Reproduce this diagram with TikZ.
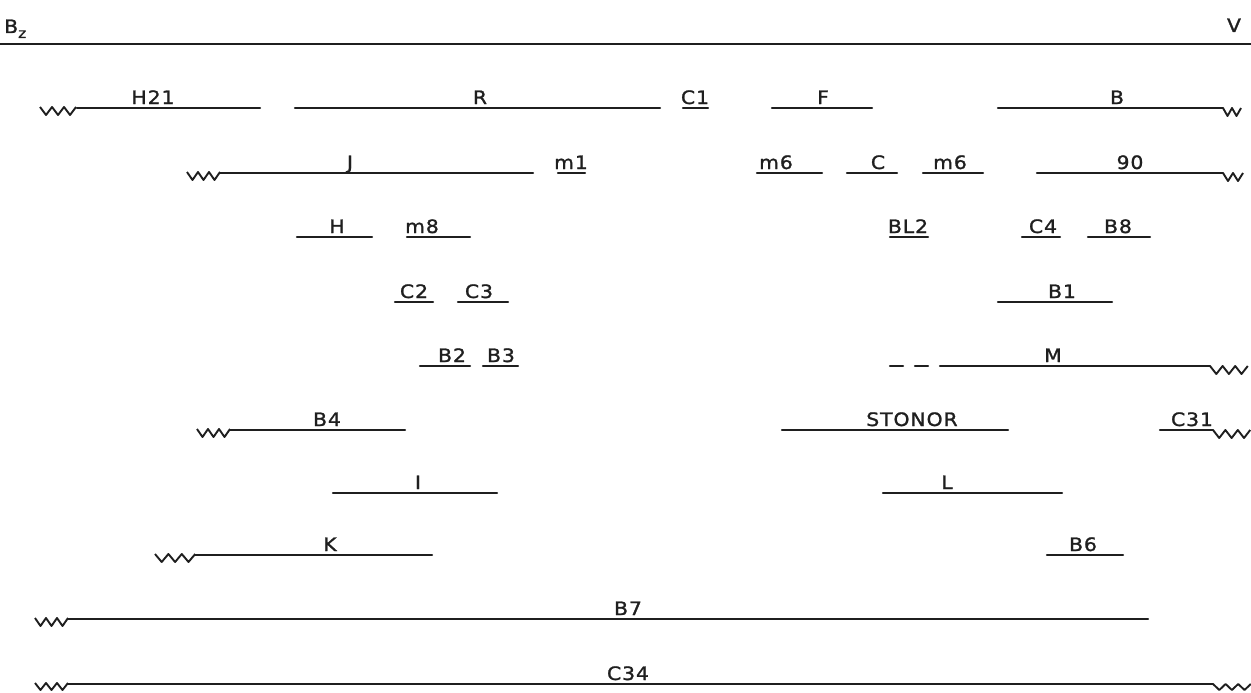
\documentclass[tikz,border=0pt]{standalone}
\usepackage{fontspec}
\setmainfont{DejaVu Sans}[FakeStretch=1.1,LetterSpace=5,FakeBold=1.3]
\newcommand\segm[6]{% name, x1, x2, y, label, label x
  \coordinate (#1a) at (#2,#4);
  \coordinate (#1b) at (#3,#4);
  \draw[seg] (#1a) -- (#1b);
  \node[lab] (#1) at (#6,#4) {#5};}
\begin{document}
\begin{tikzpicture}[x=1pt,y=-1pt,
  seg/.style={line width=2.3pt,line cap=round,line join=round,black!88},
  wav/.style={line width=1.9pt,line join=round,black!88},
  lab/.style={anchor=base,yshift=4pt,inner sep=0pt,font=\fontsize{18.5}{21}\selectfont,text=black!88}]
\useasboundingbox (0,0) rectangle (1251,693);
% top axis
\coordinate (axL) at (0,44);
\coordinate (axR) at (1251,44);
\draw[seg,line cap=butt] (axL) -- (axR);
\node[lab,anchor=base west,yshift=7pt] (Bz) at (4,44) {B\raisebox{-5pt}{\fontsize{14}{14}\selectfont z}};
\node[lab,yshift=8pt] (V) at (1234,44) {V};
% row 1
\segm{H21}{77}{260}{108}{H21}{153}
\draw[wav] (40,107) \foreach \i in {1,2,3}{ -- ++(6,8) -- ++(6,-8)};
\segm{R}{295}{660}{108}{R}{480}
\segm{C1}{683}{708}{108}{C1}{695}
\segm{F}{772}{872}{108}{F}{823}
\segm{B}{998}{1223}{108}{B}{1117}
\draw[wav] (1223,108) \foreach \i in {1,2}{ -- ++(4.5,8) -- ++(4.5,-8)};
% row 2
\segm{J}{220}{533}{173}{J}{350}
\draw[wav] (187,172) \foreach \i in {1,2,3}{ -- ++(5.5,8) -- ++(5.5,-8)};
\segm{m1}{558}{585}{173}{m1}{571}
\segm{m6a}{757}{822}{173}{m6}{776}
\segm{C}{847}{897}{173}{C}{878}
\segm{m6b}{923}{983}{173}{m6}{950}
\segm{N90}{1037}{1223}{173}{90}{1130}
\draw[wav] (1223,173) \foreach \i in {1,2}{ -- ++(5,8) -- ++(5,-8)};
% row 3
\segm{H}{297}{372}{237}{H}{337}
\segm{m8}{407}{470}{237}{m8}{422}
\segm{BL2}{890}{928}{237}{BL2}{908}
\segm{C4}{1022}{1060}{237}{C4}{1043}
\segm{B8}{1088}{1150}{237}{B8}{1118}
% row 4
\segm{C2}{395}{433}{302}{C2}{414}
\segm{C3}{458}{508}{302}{C3}{479}
\segm{B1}{998}{1112}{302}{B1}{1062}
% row 5
\segm{B2}{420}{470}{366}{B2}{452}
\segm{B3}{483}{518}{366}{B3}{501}
\coordinate (Md1a) at (890,366); \coordinate (Md1b) at (903,366);
\coordinate (Md2a) at (915,366); \coordinate (Md2b) at (928,366);
\draw[seg] (Md1a) -- (Md1b);
\draw[seg] (Md2a) -- (Md2b);
\segm{M}{940}{1210}{366}{M}{1053}
\draw[wav] (1210,366) \foreach \i in {1,2,3}{ -- ++(6.3,8) -- ++(6.3,-8)};
% row 6
\segm{B4}{230}{405}{430}{B4}{327}
\draw[wav] (197,429) \foreach \i in {1,2,3}{ -- ++(5.5,8) -- ++(5.5,-8)};
\segm{STONOR}{782}{1008}{430}{STONOR}{912}
\segm{C31}{1160}{1213}{430}{C31}{1192}
\draw[wav] (1213,430) \foreach \i in {1,2,3}{ -- ++(6.2,8) -- ++(6.2,-8)};
% row 7
\segm{I}{333}{497}{493}{I}{418}
\segm{L}{883}{1062}{493}{L}{947}
% row 8
\segm{K}{195}{432}{555}{K}{330}
\draw[wav] (155,554) \foreach \i in {1,2,3}{ -- ++(6.7,8) -- ++(6.7,-8)};
\segm{B6}{1047}{1123}{555}{B6}{1083}
% row 9
\segm{B7}{68}{1148}{619}{B7}{628}
\draw[wav] (35,618) \foreach \i in {1,2,3}{ -- ++(5.5,8) -- ++(5.5,-8)};
% row 10
\segm{C34}{68}{1213}{684}{C34}{628}
\draw[wav] (35,683) \foreach \i in {1,2,3}{ -- ++(5.5,7) -- ++(5.5,-7)};
\draw[wav] (1213,684) \foreach \i in {1,2,3}{ -- ++(6.3,6) -- ++(6.3,-6)};
\end{tikzpicture}
\end{document}
